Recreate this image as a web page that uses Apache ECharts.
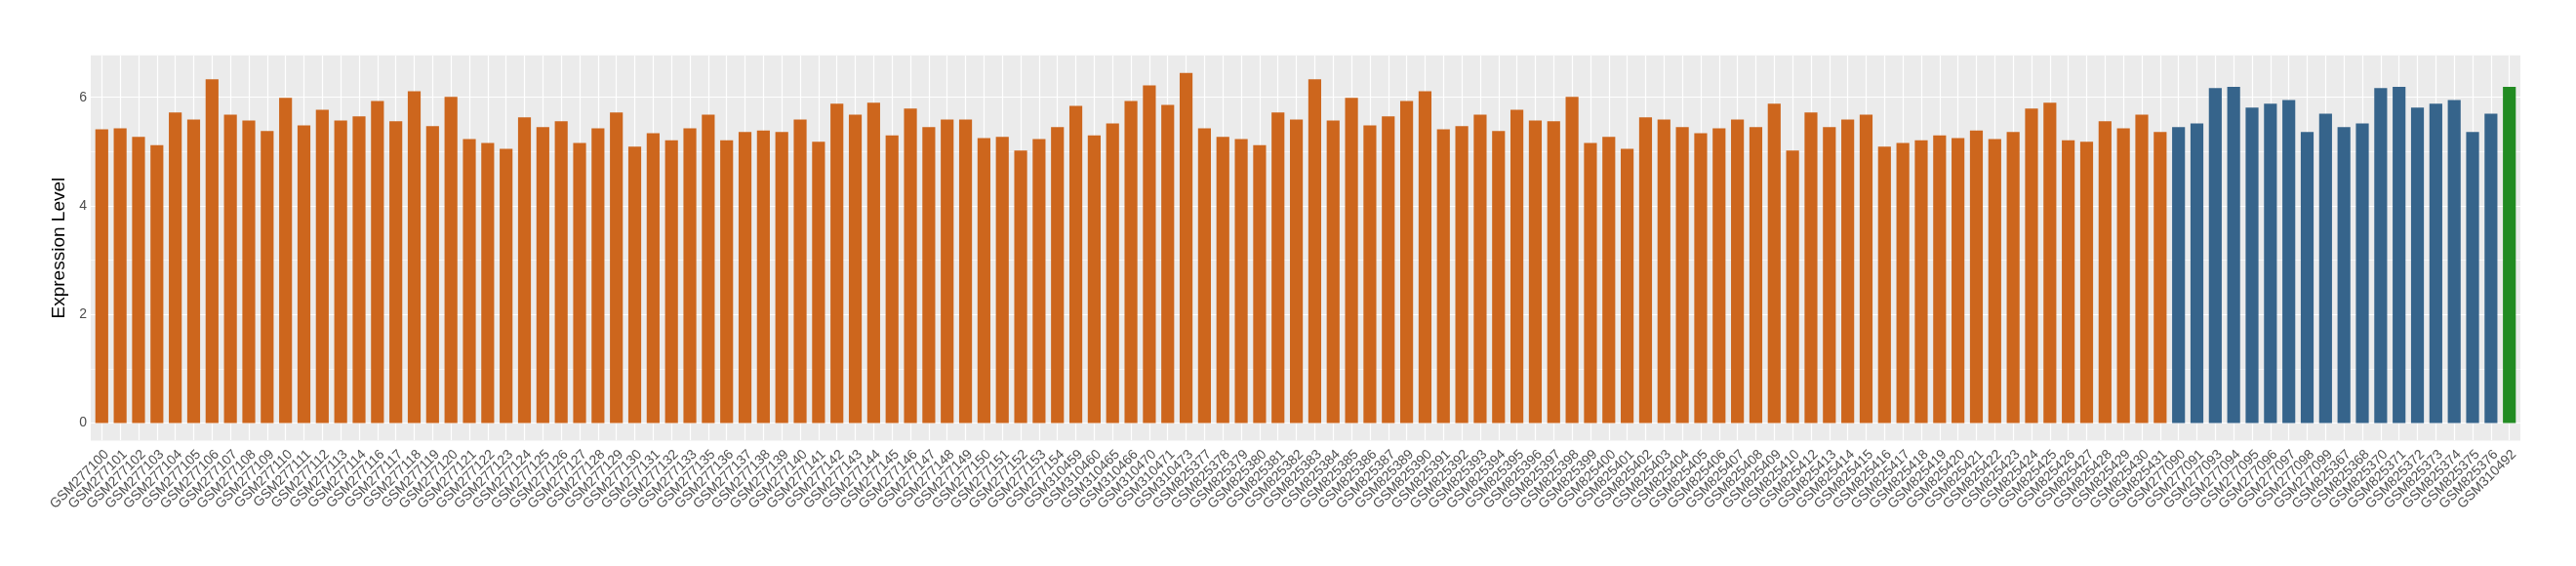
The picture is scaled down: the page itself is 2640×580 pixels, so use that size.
<!DOCTYPE html>
<html>
<head>
<meta charset="utf-8">
<script src="https://cdn.jsdelivr.net/npm/echarts@6/dist/echarts.min.js"></script>
<style>
html,body{margin:0;padding:0;background:#fff;}
#chart{width:2640px;height:580px;}
</style>
</head>
<body>
<div id="chart"></div>
<script>
const orangeSamples = [
 'GSM277100','GSM277101','GSM277102','GSM277103','GSM277104','GSM277105','GSM277106','GSM277107','GSM277108','GSM277109',
 'GSM277110','GSM277111','GSM277112','GSM277113','GSM277114','GSM277116','GSM277117','GSM277118','GSM277119','GSM277120',
 'GSM277121','GSM277122','GSM277123','GSM277124','GSM277125','GSM277126','GSM277127','GSM277128','GSM277129','GSM277130',
 'GSM277131','GSM277132','GSM277133','GSM277135','GSM277136','GSM277137','GSM277138','GSM277139','GSM277140','GSM277141',
 'GSM277142','GSM277143','GSM277144','GSM277145','GSM277146','GSM277147','GSM277148','GSM277149','GSM277150','GSM277151',
 'GSM277152','GSM277153','GSM277154','GSM310459','GSM310460','GSM310465','GSM310466','GSM310470','GSM310471','GSM310473',
 'GSM825377','GSM825378','GSM825379','GSM825380','GSM825381','GSM825382','GSM825383','GSM825384','GSM825385','GSM825386',
 'GSM825387','GSM825389','GSM825390','GSM825391','GSM825392','GSM825393','GSM825394','GSM825395','GSM825396','GSM825397',
 'GSM825398','GSM825399','GSM825400','GSM825401','GSM825402','GSM825403','GSM825404','GSM825405','GSM825406','GSM825407',
 'GSM825408','GSM825409','GSM825410','GSM825412','GSM825413','GSM825414','GSM825415','GSM825416','GSM825417','GSM825418',
 'GSM825419','GSM825420','GSM825421','GSM825422','GSM825423','GSM825424','GSM825425','GSM825426','GSM825427','GSM825428',
 'GSM825429','GSM825430','GSM825431'
];
const orangeValues = [
 5.41,5.43,5.27,5.12,5.72,5.59,6.33,5.68,5.57,5.38,
 5.99,5.48,5.77,5.57,5.65,5.93,5.56,6.11,5.47,6.01,
 5.23,5.16,5.05,5.63,5.45,5.56,5.16,5.43,5.72,5.09,
 5.34,5.21,5.43,5.68,5.21,5.36,5.39,5.36,5.59,5.18,
 5.88,5.68,5.90,5.30,5.79,5.45,5.59,5.59,5.25,5.27,
 5.02,5.23,5.45,5.84,5.30,5.52,5.93,6.22,5.86,6.45,
 5.43,5.27,5.23,5.12,5.72,5.59,6.33,5.57,5.99,5.48,
 5.65,5.93,6.11,5.41,5.47,5.68,5.38,5.77,5.57,5.56,
 6.01,5.16,5.27,5.05,5.63,5.59,5.45,5.34,5.43,5.59,
 5.45,5.88,5.02,5.72,5.45,5.59,5.68,5.09,5.16,5.21,
 5.30,5.25,5.39,5.23,5.36,5.79,5.90,5.21,5.18,5.56,
 5.43,5.68,5.36
];
const blueSamples = [
 'GSM277090','GSM277091','GSM277093','GSM277094','GSM277095','GSM277096','GSM277097','GSM277098','GSM277099',
 'GSM825367','GSM825368','GSM825370','GSM825371','GSM825372','GSM825373','GSM825374','GSM825375','GSM825376'
];
const blueValues = [5.45,5.52,6.17,6.19,5.81,5.88,5.95,5.36,5.70,5.45,5.52,6.17,6.19,5.81,5.88,5.95,5.36,5.70];
const greenSamples = ['GSM310492'];
const greenValues = [6.19];

const yTicks = [0, 2, 4, 6];
const yMinorLines = [1, 3, 5];

const groups = [
  {names: orangeSamples, values: orangeValues, color: '#CD661D'},
  {names: blueSamples, values: blueValues, color: '#36648B'},
  {names: greenSamples, values: greenValues, color: '#228B22'}
];

const categories = [];
const barData = [];
groups.forEach(g => {
  g.names.forEach((nm, k) => {
    barData.push({value: g.values[k], itemStyle: {color: g.color}});
    categories.push(nm);
  });
});
const n = categories.length;
const idx = categories.map((_, i) => i);
const maxV = Math.max(...barData.map(d => d.value));
const yMin = -0.05 * maxV, yMax = 1.05 * maxV;
const xMin = -0.6, xMax = n - 1 + 0.6;

// panel box (ggplot-style discrete expansion of 0.6 on each side)
const W = 2640, PL = 93, PR = 57, PT = 56.7, PB = 128.5;
const step = (W - PL - PR) / (xMax - xMin);
const pad = 0.1 * step;

const FONT = '"Liberation Sans", Arial, Helvetica, sans-serif';

const gridLines = [];
yTicks.forEach(v => gridLines.push({coords: [[xMin, v], [xMax, v]], lineStyle: {width: 1.2}}));
yMinorLines.forEach(v => gridLines.push({coords: [[xMin, v], [xMax, v]], lineStyle: {width: 0.6}}));
idx.forEach(i => gridLines.push({coords: [[i, yMin], [i, yMax]], lineStyle: {width: 1.2}}));

const chart = echarts.init(document.getElementById('chart'), null, {renderer: 'canvas'});
chart.setOption({
  animation: false,
  backgroundColor: '#ffffff',
  grid: [
    {left: PL, right: PR, top: PT, bottom: PB, show: true, backgroundColor: '#EBEBEB', borderWidth: 0},
    {left: PL + pad, right: PR + pad, top: PT, bottom: PB, show: false}
  ],
  xAxis: [
    {
      gridIndex: 0, type: 'value', min: xMin, max: xMax, show: false
    },
    {
      gridIndex: 1, type: 'category', data: categories, boundaryGap: true,
      axisLine: {show: false},
      splitLine: {show: false},
      axisTick: {show: true, alignWithLabel: true, interval: 0, length: 4, lineStyle: {color: '#333333', width: 1}},
      axisLabel: {
        interval: 0, rotate: 45, align: 'right', verticalAlign: 'top',
        fontSize: 14, color: '#4D4D4D', fontFamily: FONT, margin: 7
      }
    }
  ],
  yAxis: [
    {
      gridIndex: 0, type: 'value', min: yMin, max: yMax,
      name: 'Expression Level', nameLocation: 'middle', nameRotate: 90, nameGap: 6,
      nameTextStyle: {fontSize: 19, color: '#000000', fontFamily: FONT},
      axisLine: {show: false},
      splitLine: {show: false},
      axisTick: {show: true, customValues: yTicks, length: 4, lineStyle: {color: '#333333', width: 1}},
      axisLabel: {customValues: yTicks, showMinLabel: true, showMaxLabel: true, fontSize: 14, color: '#4D4D4D', fontFamily: FONT, margin: 4}
    },
    {
      gridIndex: 1, type: 'value', min: yMin, max: yMax, show: false, splitLine: {show: false}
    }
  ],
  series: [
    {
      type: 'lines',
      coordinateSystem: 'cartesian2d',
      xAxisIndex: 0, yAxisIndex: 0,
      z: 1,
      silent: true,
      polyline: false,
      lineStyle: {color: '#FFFFFF', opacity: 1, type: 'solid'},
      data: gridLines
    },
    {
      type: 'bar',
      xAxisIndex: 1, yAxisIndex: 1,
      data: barData,
      barWidth: '70%',
      z: 2
    }
  ]
});
</script>
</body>
</html>
